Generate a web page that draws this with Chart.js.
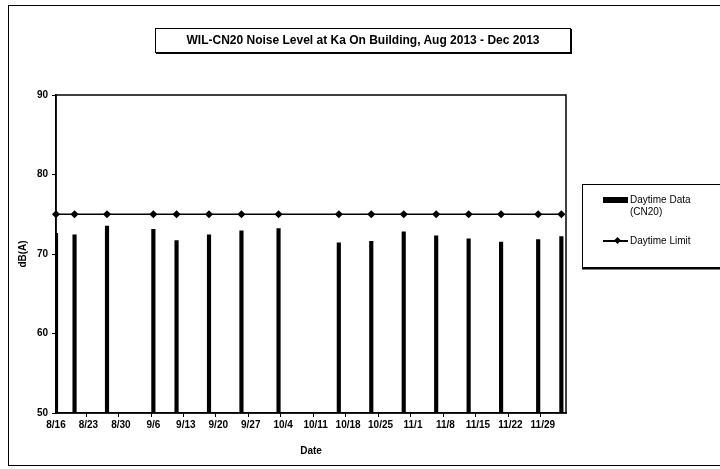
<!DOCTYPE html>
<html>
<head>
<meta charset="utf-8">
<script src="https://cdn.jsdelivr.net/npm/chart.js@4.4.1/dist/chart.umd.min.js"></script>
<style>
  body { margin: 0; background: #fff; font-family: "Liberation Sans", Arial, sans-serif; }
  #wrap { position: relative; width: 720px; height: 469px; overflow: hidden; }
  #frame { position: absolute; left: 8px; top: 5px; width: 712px; height: 461px; border: 1px solid #000; border-right: none; box-sizing: border-box; }
  #title { position: absolute; left: 155px; top: 28px; width: 416px; height: 25px; border: 1.5px solid #000; box-shadow: 1px 1px 0 #000;
           box-sizing: border-box; font-weight: bold; font-size: 12px; line-height: 22px; text-align: center; background: #fff; }
  #legend { position: absolute; left: 582px; top: 184px; width: 150px; height: 84px; border: 1.5px solid #000; box-shadow: 0 1.5px 0 #000;
            box-sizing: border-box; font-size: 10px; background: #fff; }
  .sw { position: absolute; left: 20px; top: 12px; width: 25px; height: 6px; background: #000; }
  .ln { position: absolute; left: 20px; top: 55px; width: 25px; height: 1.5px; background: #000; }
  .dm { position: absolute; left: 32px; top: 52.5px; width: 5px; height: 5px; background: #000; transform: rotate(45deg); }
  .tx { position: absolute; left: 47px; line-height: 12px; }
  canvas { position: absolute; left: 0; top: 0; }
</style>
</head>
<body>
<div id="wrap">
  <canvas id="noiseChart" width="720" height="469"></canvas>
  <div id="frame"></div>
  <div id="title">WIL-CN20 Noise Level at Ka On Building, Aug 2013 - Dec 2013</div>
  <div id="legend">
    <div class="sw"></div>
    <div class="tx" style="top:9px">Daytime Data<br>(CN20)</div>
    <div class="ln"></div><div class="dm"></div>
    <div class="tx" style="top:50px">Daytime Limit</div>
  </div>
</div>
<script>
// --- DATA ---
const sampleDates = ['8/16', '8/20', '8/27', '9/6', '9/11', '9/18', '9/25', '10/3',
                     '10/16', '10/23', '10/30', '11/6', '11/13', '11/20', '11/28', '12/3'];
const daytimeData = [72.6, 72.4, 73.5, 73.1, 71.7, 72.4, 72.9, 73.2,
                     71.4, 71.6, 72.8, 72.3, 71.9, 71.5, 71.8, 72.2];
const daytimeLimit = [75, 75, 75, 75, 75, 75, 75, 75,
                      75, 75, 75, 75, 75, 75, 75, 75];
const tickLabels = ['8/16', '8/23', '8/30', '9/6', '9/13', '9/20', '9/27', '10/4',
                    '10/11', '10/18', '10/25', '11/1', '11/8', '11/15', '11/22', '11/29'];
const yTicks = [50, 60, 70, 80, 90];

// daily category axis, 8/16/2013 .. 12/4/2013
const days = [];
for (let d = new Date(2013, 7, 16); d <= new Date(2013, 11, 4); d.setDate(d.getDate() + 1)) {
    days.push((d.getMonth() + 1) + '/' + d.getDate());
}

function onDays(dates, values) {
    return days.map(day => {
        const i = dates.indexOf(day);
        return i >= 0 ? values[i] : null;
    });
}

// draws the box round the plot area
const plotBorder = {
    id: 'plotBorder',
    afterDraw(chart) {
        const { ctx, chartArea: a } = chart;
        ctx.save();
        ctx.strokeStyle = '#000';
        ctx.lineWidth = 1.5;
        ctx.strokeRect(a.left, a.top, a.right - a.left, a.bottom - a.top);
        ctx.restore();
    }
};

const font = { family: '"Liberation Sans", Arial, sans-serif', size: 10, weight: 'bold' };

new Chart(document.getElementById('noiseChart'), {
    data: {
        labels: days,
        datasets: [{
            type: 'line',
            label: 'Daytime Limit',
            data: onDays(sampleDates, daytimeLimit),
            borderColor: '#000',
            backgroundColor: '#000',
            borderWidth: 1.5,
            pointStyle: 'rectRot',
            pointRadius: 3,
            spanGaps: true,
            order: 0
        }, {
            type: 'bar',
            label: 'Daytime Data (CN20)',
            data: onDays(sampleDates, daytimeData),
            backgroundColor: '#000',
            barThickness: 3.5,
            order: 1
        }]
    },
    options: {
        responsive: false,
        animation: false,
        layout: { padding: { left: 10, right: 154, top: 95, bottom: 0 } },
        plugins: { legend: { display: false }, title: { display: false }, tooltip: { enabled: false } },
        scales: {
            x: {
                offset: false,
                afterFit: s => { s.height = 56; },
                border: { color: '#000', width: 1.5 },
                grid: {
                    drawOnChartArea: false,
                    tickLength: 4,
                    color: c => tickLabels.includes(days[c.index]) ? '#000' : 'rgba(0,0,0,0)'
                },
                ticks: {
                    autoSkip: false,
                    maxRotation: 0,
                    padding: 2,
                    color: '#000',
                    font: font,
                    callback: (v, i) => tickLabels.includes(days[i]) ? days[i] : ''
                },
                title: { display: true, text: 'Date', color: '#000', font: font, padding: { top: 0, bottom: 12 } }
            },
            y: {
                min: 50,
                max: 90,
                afterFit: s => { s.width = 46; },
                afterBuildTicks: s => { s.ticks = yTicks.map(v => ({ value: v })); },
                border: { color: '#000', width: 1.5 },
                grid: { drawOnChartArea: false, tickLength: 4, color: '#000' },
                ticks: { padding: 4, color: '#000', font: font },
                title: { display: true, text: 'dB(A)', color: '#000', font: font, padding: { top: 7, bottom: 0 } }
            }
        }
    },
    plugins: [plotBorder]
});
</script>
</body>
</html>
